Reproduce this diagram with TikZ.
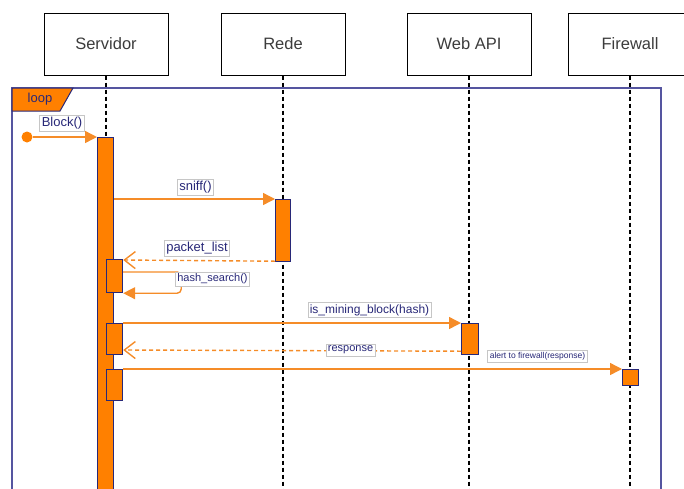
\documentclass[tikz,border=0pt]{standalone}
\usepackage{fontspec}
\setmainfont{Liberation Sans}
\usetikzlibrary{arrows.meta}
\definecolor{actorange}{RGB}{255,128,0}
\definecolor{msgorange}{RGB}{245,140,40}
\definecolor{umlnavy}{RGB}{40,40,120}
\definecolor{framenavy}{RGB}{85,85,160}
\definecolor{headtext}{RGB}{60,60,60}
\begin{document}
\begin{tikzpicture}
 [x=1pt,y=-1pt,
  head/.style={draw,rectangle,line width=1pt,minimum width=124pt,minimum height=62pt,
    font=\fontsize{16.5}{18}\selectfont,text=headtext},
  act/.style={draw=umlnavy,fill=actorange,line width=1.2pt,minimum width=16pt,inner sep=0pt,anchor=north west},
  msg/.style={draw=msgorange,line width=1.4pt,-{Triangle[length=12pt,width=12pt]}},
  ret/.style={draw=msgorange,line width=1.4pt,dash pattern=on 4pt off 3pt,-{Straight Barb[length=11pt,width=17pt,line width=1.4pt]}},
  lbl/.style={draw=gray!45,fill=white,line width=.6pt,text=umlnavy,inner sep=2pt}]
  \useasboundingbox (0,0) rectangle (684,488);
  \clip (0,0) rectangle (684,488);

  \node[head] (srv) at (106,44) {Servidor};
  \node[head] (net) at (283,44) {Rede};
  \node[head] (api) at (469,44) {Web API};
  \node[head] (fw) at (630,44) {Firewall};

  \foreach \who in {srv,net,api,fw}
    \draw[line width=1.2pt,dash pattern=on 4pt off 3pt] (\who.south) -- (\who.south |- 0,500);

  % loop frame
  \draw[framenavy,line width=1.8pt] (12,600) -- (12,88) -- (661,88) -- (661,600);
  \draw[umlnavy,fill=actorange,line width=1pt] (12,88) -- (73,88) -- (60,111) -- (12,111) -- cycle;
  \node[text=umlnavy,font=\fontsize{13}{15}\selectfont] (loop) at (40,99.5) {loop};

  % activations
  \node[act,minimum height=370pt] (srvact) at (97,137) {};
  \node[act,minimum height=62pt,minimum width=15pt] (netact) at (275,199) {};
  \node[act,minimum height=33pt] (hashact) at (106,259) {};
  \node[act,minimum height=31pt] (askact) at (106,323) {};
  \node[act,minimum height=31pt,minimum width=17pt] (apiact) at (461,323) {};
  \node[act,minimum height=31pt] (alertact) at (106,369) {};
  \node[act,minimum height=16pt] (fwact) at (622,369) {};

  % messages
  \node[circle,fill=actorange,inner sep=0pt,minimum size=11pt] (start) at (27,137) {};
  \draw[msg] (start) -- (srvact.north west);
  \draw[msg] (srvact.east |- netact.north west) -- (netact.north west);
  \draw[ret] ([yshift=1pt]netact.south west) -- (hashact.east |- 0,260);
  \draw[msg,rounded corners=4pt] ([yshift=-13pt]hashact.north east) -| ([xshift=58pt]hashact.south east) -- (hashact.south east);
  \draw[msg] (askact.north east) -- (apiact.north west);
  \draw[ret] ([yshift=4pt]apiact.south west) -- (askact.east |- 0,350);
  \draw[msg] (alertact.north east) -- (fwact.north west);

  % labels
  \node[lbl,font=\fontsize{13}{15}\selectfont] (blocklbl) at (62,123.5) {Block()};
  \node[lbl,font=\fontsize{13}{15}\selectfont] (snifflbl) at (195.5,187) {sniff()};
  \node[lbl,font=\fontsize{13}{15}\selectfont] (packetlbl) at (197,248) {packet\_list};
  \node[lbl,font=\fontsize{11}{13}\selectfont] (hashlbl) at (212.5,279) {hash\_search()};
  \node[lbl,font=\fontsize{12}{14}\selectfont] (minelbl) at (369.5,310) {is\_mining\_block(hash)};
  \node[lbl,font=\fontsize{11}{13}\selectfont] (resplbl) at (350.5,350) {response};
  \node[lbl,font=\fontsize{8.5}{10}\selectfont] (alertlbl) at (537.5,356) {alert to firewall(response)};
\end{tikzpicture}
\end{document}
